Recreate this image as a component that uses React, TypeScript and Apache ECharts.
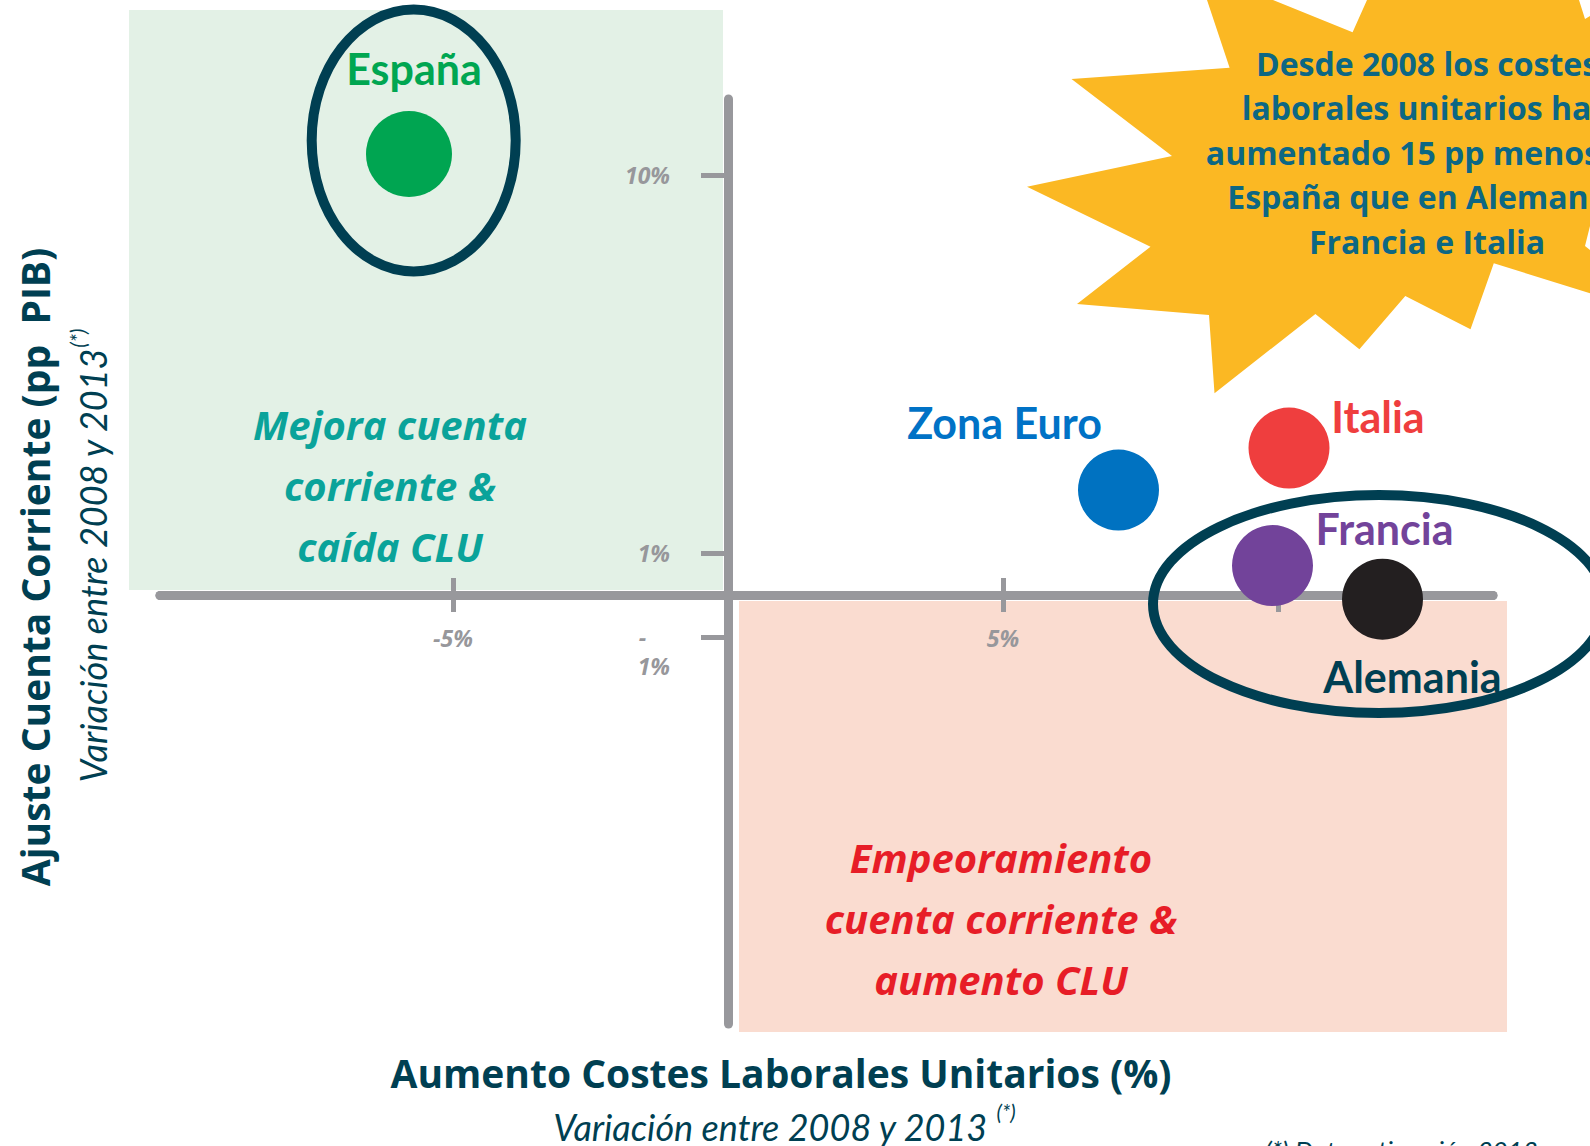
import React, { useEffect, useRef } from 'react';
import * as echarts from 'echarts';

// ---- data ----
const countries = ['España', 'Zona Euro', 'Italia', 'Francia', 'Alemania'];
const ulcChange = [-5.8, 7.1, 10.2, 9.9, 11.9]; // Aumento CLU (%)
const currentAccountAdj = [10.5, 2.5, 3.5, 0.7, -0.1]; // Ajuste cuenta corriente (pp PIB)
const xTickValues = [-5, 5, 10];
const xLabelValues = [-5, 5];
const yTickValues = [10, 1, -1];
const yLabelValues = [10, 1, -1];

// ---- styling ----
const dotColors = ['#00a551', '#0072c1', '#ef3e3e', '#72439a', '#231f20'];
const labelColors = ['#00a651', '#0072c6', '#ef3e3e', '#72439a', '#003f52'];
const labelOffsets = [
  [5, -86],
  [-114, -68],
  [89, -32],
  [112, -37],
  [30, 77],
];
const dotSizes = [86, 81, 81, 81, 81];

const FONT = 'Lato, "Open Sans", sans-serif';
const FONT2 = '"Open Sans", Lato, sans-serif';
const AXIS_GRAY = '#98989c';
const DARK = '#003f52';

const starPoints = [
  [1207, 0], [1229.6, 67.7], [1071.5, 79], [1172, 156], [1027, 186.7],
  [1150.5, 246.7], [1077, 304], [1209, 315], [1214.5, 393.3], [1315.4, 314],
  [1359.4, 349.3], [1405.3, 296], [1470.5, 329.3], [1493.8, 263.3], [1590, 293.3],
  [1590, 250], [1585, 246], [1590, 226], [1590, 16], [1585, 19], [1579, 0],
  [1367, 0], [1352.6, 32.3], [1273, 0],
];

function buildOption() {
  const xAxisBase = {
    type: 'value',
    min: -10.327,
    max: 13.909,
    splitLine: { show: false },
  };
  const tickLabelStyle = {
    fontFamily: FONT2,
    fontSize: 23,
    fontStyle: 'italic',
    fontWeight: 'bold',
    color: '#97979b',
  };
  return {
    animation: false,
    backgroundColor: '#ffffff',
    grid: { left: 160, right: 97, top: 99, bottom: 122, containLabel: false },
    xAxis: [
      {
        ...xAxisBase,
        position: 'bottom',
        axisLine: { onZero: true, onZeroAxisIndex: 0, lineStyle: { color: AXIS_GRAY, width: 9 } },
        axisTick: { customValues: xTickValues, length: 17, lineStyle: { color: AXIS_GRAY, width: 5 } },
        axisLabel: {
          customValues: xLabelValues,
          formatter: (v: number) => `${v}%`,
          margin: -398,
          ...tickLabelStyle,
        },
      },
      {
        ...xAxisBase,
        position: 'top',
        axisLine: { onZero: true, onZeroAxisIndex: 0, lineStyle: { color: AXIS_GRAY, width: 9 } },
        axisTick: { customValues: xTickValues, length: 17, lineStyle: { color: AXIS_GRAY, width: 5 } },
        axisLabel: { show: false },
      },
    ],
    yAxis: [
      {
        type: 'value',
        min: -10.214,
        max: 11.81,
        splitLine: { show: false },
        axisLine: { onZero: true, onZeroAxisIndex: 0, lineStyle: { color: AXIS_GRAY, width: 9 } },
        axisTick: { customValues: yTickValues, length: 27, lineStyle: { color: AXIS_GRAY, width: 5 } },
        axisLabel: {
          customValues: yLabelValues,
          formatter: (v: number) => (v < 0 ? `\n-    \n${Math.abs(v)}%` : `${v}%`),
          margin: -510,
          lineHeight: 29,
          ...tickLabelStyle,
        },
      },
    ],
    series: [
      {
        type: 'scatter',
        xAxisIndex: 0,
        yAxisIndex: 0,
        z: 3,
        data: countries.map((name, i) => ({
          name,
          value: [ulcChange[i], currentAccountAdj[i]],
          symbolSize: dotSizes[i],
          itemStyle: { color: dotColors[i], opacity: 1 },
          label: {
            show: true,
            position: 'inside',
            offset: labelOffsets[i],
            formatter: name,
            color: labelColors[i],
            fontFamily: FONT,
            fontWeight: 'bold',
            fontSize: 43,
          },
        })),
      },
    ],
    graphic: [
      { type: 'rect', z: -10, shape: { x: 129, y: 10, width: 594, height: 580 }, style: { fill: '#e3f1e6' }, silent: true },
      { type: 'rect', z: -10, shape: { x: 739, y: 601, width: 768, height: 431 }, style: { fill: '#fadcd0' }, silent: true },
      {
        type: 'polygon', z: 5, silent: true,
        shape: { points: starPoints },
        style: { fill: '#fbb823' },
      },
      {
        type: 'text', z: 6, x: 1427, y: 152, silent: true,
        style: {
          text: 'Desde 2008 los costes\nlaborales unitarios han\naumentado 15 pp menos en\nEspaña que en Alemania,\nFrancia e Italia',
          fontFamily: FONT2, fontWeight: 'bold', fontSize: 32, lineHeight: 44.5,
          fill: '#0d6783', align: 'center', verticalAlign: 'middle',
        },
      },
      {
        type: 'ellipse', z: 10, silent: true,
        shape: { cx: 413.7, cy: 140.5, rx: 102, ry: 131 },
        style: { fill: 'none', stroke: DARK, lineWidth: 10 },
      },
      {
        type: 'ellipse', z: 10, silent: true,
        shape: { cx: 1379, cy: 604, rx: 226, ry: 109 },
        style: { fill: 'none', stroke: DARK, lineWidth: 10 },
      },
      {
        type: 'text', z: 6, x: 390, y: 485, silent: true,
        style: {
          text: 'Mejora cuenta\ncorriente &\ncaída CLU',
          fontFamily: FONT2, fontWeight: 'bold', fontStyle: 'italic', fontSize: 40, lineHeight: 61,
          fill: '#0aa39a', align: 'center', verticalAlign: 'middle',
        },
      },
      {
        type: 'text', z: 6, x: 1001, y: 918, silent: true,
        style: {
          text: 'Empeoramiento\ncuenta corriente &\naumento CLU',
          fontFamily: FONT2, fontWeight: 'bold', fontStyle: 'italic', fontSize: 40, lineHeight: 61,
          fill: '#e71d27', align: 'center', verticalAlign: 'middle',
        },
      },
      {
        type: 'text', z: 6, x: 34, y: 567, rotation: Math.PI / 2, silent: true,
        style: {
          text: 'Ajuste Cuenta Corriente (pp  PIB)',
          fontFamily: FONT2, fontWeight: 'bold', fontSize: 39,
          fill: DARK, align: 'center', verticalAlign: 'middle',
        },
      },
      {
        type: 'text', z: 6, x: 89, y: 556, rotation: Math.PI / 2, silent: true,
        style: {
          text: '{a|Variación entre 2008 y 2013}{b|(*)}',
          align: 'center', verticalAlign: 'middle',
          rich: {
            a: { fontFamily: FONT, fontStyle: 'italic', fontSize: 36, fill: DARK, lineHeight: 44, verticalAlign: 'bottom' },
            b: { fontFamily: FONT, fontStyle: 'italic', fontSize: 21, fill: DARK, lineHeight: 44, verticalAlign: 'top' },
          },
        },
      },
      {
        type: 'text', z: 6, x: 781, y: 1072, silent: true,
        style: {
          text: 'Aumento Costes Laborales Unitarios (%)',
          fontFamily: FONT2, fontWeight: 'bold', fontSize: 39,
          fill: DARK, align: 'center', verticalAlign: 'middle',
        },
      },
      {
        type: 'text', z: 6, x: 784, y: 1123, silent: true,
        style: {
          text: '{a|Variación entre 2008 y 2013 }{b|(*)}',
          align: 'center', verticalAlign: 'middle',
          rich: {
            a: { fontFamily: FONT, fontStyle: 'italic', fontSize: 36, fill: DARK, lineHeight: 44, verticalAlign: 'bottom' },
            b: { fontFamily: FONT, fontStyle: 'italic', fontSize: 21, fill: DARK, lineHeight: 44, verticalAlign: 'top' },
          },
        },
      },
      {
        type: 'text', z: 6, x: 1265, y: 1137, silent: true,
        style: {
          text: '(*) Dato estimación 2013',
          fontFamily: FONT, fontStyle: 'italic', fontSize: 26,
          fill: DARK, align: 'left', verticalAlign: 'top',
        },
      },
    ],
  };
}

export default function App() {
  const ref = useRef<HTMLDivElement>(null);
  useEffect(() => {
    if (!ref.current) return;
    const chart = echarts.init(ref.current, null, { renderer: 'svg' });
    chart.setOption(buildOption() as any);
    return () => chart.dispose();
  }, []);
  return (
    <div
      ref={ref}
      style={{ position: 'absolute', left: 0, top: 0, width: 1590, height: 1146, background: '#ffffff' }}
    />
  );
}
